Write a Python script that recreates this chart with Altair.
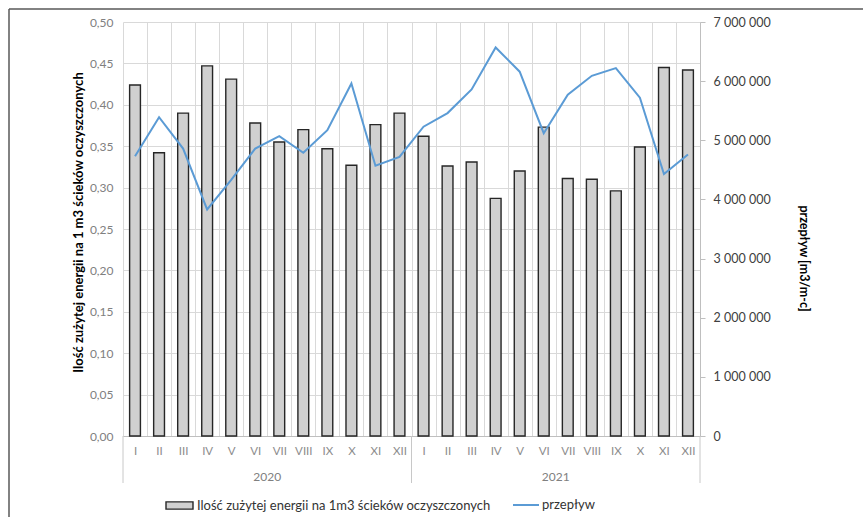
import altair as alt
import pandas as pd

# Monthly data, 2020-2021
years = ["2020", "2021"]
months = ["I", "II", "III", "IV", "V", "VI", "VII", "VIII", "IX", "X", "XI", "XII"]

# energy used per 1 m3 of treated wastewater (left axis)
energy_2020 = [0.424, 0.342, 0.390, 0.447, 0.431, 0.378, 0.355, 0.370, 0.347, 0.327, 0.376, 0.390]
energy_2021 = [0.362, 0.326, 0.331, 0.287, 0.320, 0.373, 0.311, 0.310, 0.296, 0.349, 0.445, 0.442]

# monthly flow in m3 (right axis)
flow_2020 = [4730000, 5390000, 4860000, 3830000, 4330000, 4860000,
             5070000, 4790000, 5170000, 5960000, 4570000, 4720000]
flow_2021 = [5230000, 5460000, 5860000, 6570000, 6160000, 5120000,
             5770000, 6090000, 6220000, 5720000, 4430000, 4760000]

bar_label = "Ilość zużytej energii na 1m3 ścieków oczyszczonych"
line_label = "przepływ"
left_title = "Ilość zużytej energii na 1 m3 ścieków oczyszczonych"
right_title = "przepływ [m3/m-c]"

keys = [f"{y}-{m}" for y in years for m in months]
df = pd.DataFrame({
    "key": keys,
    "energy": energy_2020 + energy_2021,
    "flow": flow_2020 + flow_2021,
    "s_bar": bar_label,
    "s_line": line_label,
})

W, H = 577, 414
FONT = "Lato"
FS = 12

x_scale = alt.Scale(domain=keys, paddingInner=0, paddingOuter=0)

x_axis = alt.Axis(
    title=None,
    labelExpr="split(datum.label, '-')[1]",
    labelAngle=0,
    labelColor="#8c8c8c",
    labelFont=FONT,
    labelFontSize=11.5,
    labelPadding=9,
    ticks=False,
    tickBand="extent",
    grid=True,
    gridColor="#d9d9d9",
    domainColor="#bfbfbf",
)

bars = alt.Chart(df).mark_bar(
    width=alt.RelativeBandSize(0.45),
    stroke="#262626",
    strokeWidth=1.4,
).encode(
    x=alt.X("key:N", scale=x_scale, axis=x_axis),
    y=alt.Y(
        "energy:Q",
        scale=alt.Scale(domain=[0, 0.5], nice=False),
        axis=alt.Axis(
            title=left_title,
            values=[round(0.05 * i, 2) for i in range(11)],
            labelExpr="replace(format(datum.value, '.2f'), '.', ',')",
            labelColor="#808080",
            labelFont=FONT,
            labelFontSize=FS,
            labelPadding=10,
            ticks=False,
            domain=False,
            grid=True,
            gridColor="#d9d9d9",
            titleFont=FONT,
            titleFontSize=13,
            titleFontWeight="bold",
            titleColor="#000000",
            titleX=-45,
            titleY=200,
            titleBaseline="middle",
            titleAlign="center",
        ),
    ),
    fill=alt.Fill(
        "s_bar:N",
        scale=alt.Scale(domain=[bar_label], range=["#d0d0d0"]),
        legend=alt.Legend(
            orient="none",
            legendX=42,
            legendY=469,
            title=None,
            symbolType="M-1,-0.27H1V0.27H-1Z",
            symbolSize=729,
            symbolStrokeColor="#262626",
            symbolStrokeWidth=1.4,
            symbolFillColor="#d0d0d0",
            labelFont=FONT,
            labelFontSize=13,
            labelColor="#333333",
            labelOffset=3,
            labelLimit=0,
        ),
    ),
)

line = alt.Chart(df).mark_line(strokeWidth=2).encode(
    x=alt.X("key:N", scale=x_scale),
    y=alt.Y(
        "flow:Q",
        scale=alt.Scale(domain=[0, 7000000], nice=False),
        axis=alt.Axis(
            orient="right",
            title=right_title,
            values=[1000000 * i for i in range(8)],
            labelExpr="replace(replace(format(datum.value, ','), ',', ' '), ',', ' ')",
            labelColor="#404040",
            labelFont=FONT,
            labelFontSize=12.5,
            labelPadding=8,
            tickSize=5,
            tickColor="#bfbfbf",
            domainColor="#bfbfbf",
            grid=False,
            titleFont=FONT,
            titleFontSize=12.5,
            titleFontWeight="bold",
            titleColor="#000000",
            titleX=103,
            titleY=236,
            titleBaseline="middle",
            titleAlign="center",
        ),
    ),
    stroke=alt.Stroke(
        "s_line:N",
        scale=alt.Scale(domain=[line_label], range=["#5b9bd5"]),
        legend=alt.Legend(
            orient="none",
            legendX=389,
            legendY=469,
            title=None,
            symbolType="stroke",
            symbolSize=676,
            symbolStrokeWidth=2,
            labelFont=FONT,
            labelFontSize=13,
            labelColor="#333333",
            labelOffset=2,
            labelLimit=0,
        ),
    ),
)

# year labels centred under each group of months
year_df = pd.DataFrame({"key": ["2020-VI", "2021-VI"], "year": years})
year_text = alt.Chart(year_df).mark_text(
    font=FONT, fontSize=FS, color="#808080", baseline="middle"
).encode(
    x=alt.X("key:N", scale=x_scale, bandPosition=1),
    y=alt.value(H + 41),
    text="year:N",
)

# separators between the year groups on the category axis
sep_start = alt.Chart(pd.DataFrame({"key": ["2020-I", "2021-I"]})).mark_rule(
    color="#c8c8c8", strokeWidth=1
).encode(
    x=alt.X("key:N", scale=x_scale, bandPosition=0),
    y=alt.value(H),
    y2=alt.value(H + 47),
)
sep_end = alt.Chart(pd.DataFrame({"key": ["2021-XII"]})).mark_rule(
    color="#c8c8c8", strokeWidth=1
).encode(
    x=alt.X("key:N", scale=x_scale, bandPosition=1),
    y=alt.value(H),
    y2=alt.value(H + 47),
)

# outer frame (top and left edges)
one = pd.DataFrame({"a": [0]})
frame_top = alt.Chart(one).mark_rule(color="#595959", strokeWidth=1.5).encode(
    x=alt.value(-114), x2=alt.value(760), y=alt.value(-13)
)
frame_left = alt.Chart(one).mark_rule(color="#595959", strokeWidth=1.5).encode(
    x=alt.value(-114), y=alt.value(-13), y2=alt.value(520)
)

chart = alt.layer(
    bars, line, year_text, sep_start, sep_end, frame_top, frame_left
).resolve_scale(
    y="independent", fill="independent", stroke="independent"
).properties(
    width=W,
    height=H,
    autosize=alt.AutoSizeParams(type="none"),
    padding={"left": 123, "top": 22, "right": 163, "bottom": 81},
).configure(
    background="white",
).configure_view(stroke=None)

chart.save("out.html", embed_options={"renderer": "svg", "actions": False})
